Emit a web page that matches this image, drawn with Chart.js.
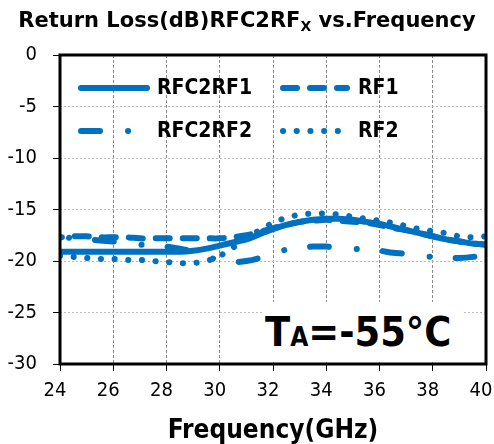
<!DOCTYPE html>
<html>
<head>
<meta charset="utf-8">
<script src="https://cdn.jsdelivr.net/npm/chart.js@4.4.1/dist/chart.umd.min.js"></script>
<style>
  body { margin: 0; background: #fff; }
  #wrap { position: relative; width: 494px; height: 444px; font-family: 'DejaVu Sans Condensed', 'DejaVu Sans', sans-serif; color: #000; }
  #title { position: absolute; left: 0; top: 10px; width: 494px; text-align: center; font-family: 'DejaVu Sans', sans-serif; font-weight: bold; font-size: 21px; line-height: 21px; white-space: nowrap; }
  #title sub { font-size: 14px; vertical-align: -4px; line-height: 0; }
  #temp { position: absolute; left: 262px; top: 302px; width: 198px; height: 60px; padding-left: 3px; background: #fff; font-weight: bold; }
  #temp div { margin-top: 10px; font-size: 41px; line-height: 41px; white-space: nowrap; }
  #temp span { font-size: 26px; }
  canvas { position: absolute; left: 0; top: 0; }
</style>
</head>
<body>
<div id="wrap">
  <canvas id="chartOfReturnLoss" width="494" height="444"></canvas>
  <div id="title">Return Loss(dB)RFC2RF<sub>X</sub> vs.Frequency</div>
  <div id="temp"><div>T<span>A</span>=-55°C</div></div>
</div>
<script>
'use strict';

// frequency points (GHz)
let freqs = [24, 24.5, 25, 25.5, 26, 26.5, 27, 27.5, 28, 28.5, 29, 29.5, 30, 30.5, 31, 31.5, 32,
  32.5, 33, 33.5, 34, 34.5, 35, 35.5, 36, 36.5, 37, 37.5, 38, 38.5, 39, 39.5, 40];

// return loss (dB)
let rfc2rf1 = [-19.1, -19.1, -19.1, -19.1, -19.1, -19.1, -19.1, -19.1, -19.1, -19.1, -19.0, -18.8, -18.5,
  -18.2, -17.9, -17.4, -16.9, -16.5, -16.2, -16.0, -15.9, -15.9, -16.0, -16.2, -16.4, -16.7, -17.0,
  -17.3, -17.6, -17.9, -18.1, -18.3, -18.4];
let rf1 = [-17.7, -17.6, -17.6, -17.7, -17.7, -17.7, -17.8, -17.8, -17.8, -17.8, -17.8, -17.8, -17.8,
  -17.7, -17.5, -17.2, -16.8, -16.5, -16.2, -16.1, -16.0, -16.1, -16.2, -16.3, -16.5, -16.8, -17.0,
  -17.3, -17.6, -17.9, -18.1, -18.3, -18.4];
let rfc2rf2 = [-17.6, -17.8, -17.9, -18.0, -18.1, -18.2, -18.4, -18.5, -18.6, -18.8, -19.1, -19.6, -19.9,
  -20.1, -20.0, -19.7, -19.2, -18.9, -18.7, -18.6, -18.6, -18.7, -18.8, -18.9, -19.0, -19.2, -19.3,
  -19.5, -19.6, -19.7, -19.7, -19.6, -19.4];
let rf2 = [-19.5, -19.6, -19.7, -19.8, -19.8, -19.9, -19.9, -20.0, -20.1, -20.2, -20.2, -20.0, -19.5,
  -18.7, -17.8, -17.0, -16.3, -15.8, -15.5, -15.4, -15.4, -15.5, -15.7, -15.9, -16.1, -16.3, -16.6,
  -16.9, -17.1, -17.3, -17.6, -17.7, -17.6];

let seriesNames = ['RFC2RF1', 'RF1', 'RFC2RF2', 'RF2'];
let seriesValues = [rfc2rf1, rf1, rfc2rf2, rf2];

let xTicks = [24, 26, 28, 30, 32, 34, 36, 38, 40];
let yTicks = [0, -5, -10, -15, -20, -25, -30];

let lineBlue = '#0070C0';
let fontFamily = "'DejaVu Sans Condensed', 'DejaVu Sans', sans-serif";

// line look per series: solid, dashed, dash-dot, dotted
let dashes = [[], [14, 13], [19, 28, 0.1, 26], [0.1, 13.6]];
let dashOffsets = [0, 12, 38, 0];
let widths = [6, 6, 6, 6];

function toPoints(values) {
  let points = [];
  for (let i = 0; i < freqs.length; i++) {
    points.push({ x: freqs[i], y: values[i] });
  }
  return points;
}

let datasets = [];
for (let i = 0; i < seriesNames.length; i++) {
  datasets.push({
    label: seriesNames[i],
    data: toPoints(seriesValues[i]),
    borderColor: lineBlue,
    borderWidth: widths[i],
    borderDash: dashes[i],
    borderDashOffset: dashOffsets[i],
    borderCapStyle: 'round',
    borderJoinStyle: 'round',
    pointRadius: 0,
    tension: 0.3,
    fill: false
  });
}

// legend drawn inside the plot, two columns
let insideLegend = {
  id: 'insideLegend',
  afterDatasetsDraw(chart) {
    let c = chart.ctx;
    let cols = [{ x0: 81, tx: 157 }, { x0: 283, tx: 358 }];
    let rows = [88, 131];
    let sampleEnds = [147, 347, 129, 338];
    chart.data.datasets.forEach(function (ds, i) {
      let col = cols[i % 2];
      let y = rows[Math.floor(i / 2)];
      c.save();
      c.strokeStyle = ds.borderColor;
      c.lineWidth = ds.borderWidth;
      c.lineCap = 'round';
      c.setLineDash(ds.borderDash);
      c.beginPath();
      c.moveTo(col.x0, y);
      c.lineTo(sampleEnds[i], y);
      c.stroke();
      c.setLineDash([]);
      c.fillStyle = '#000';
      c.font = 'bold 21px ' + fontFamily;
      c.textBaseline = 'middle';
      c.fillText(ds.label, col.tx, y + 1);
      c.restore();
    });
  }
};

// thick black frame round the plot
let plotFrame = {
  id: 'plotFrame',
  afterDraw(chart) {
    let a = chart.chartArea;
    let c = chart.ctx;
    c.save();
    c.strokeStyle = '#000';
    c.lineWidth = 3;
    c.strokeRect(a.left, a.top, a.right - a.left, a.bottom - a.top);
    c.restore();
  }
};

Chart.defaults.font.family = fontFamily;
Chart.defaults.color = '#000';

let ctx = document.getElementById('chartOfReturnLoss');

new Chart(ctx, {
  type: 'line',
  data: { datasets: datasets },
  options: {
    responsive: false,
    animation: false,
    devicePixelRatio: 1,
    layout: { padding: { left: 0, right: 8, top: 55, bottom: 0 } },
    plugins: {
      legend: { display: false },
      tooltip: { enabled: false }
    },
    scales: {
      x: {
        type: 'linear',
        min: 24,
        max: 40,
        afterBuildTicks(scale) {
          scale.ticks = xTicks.map(v => ({ value: v }));
        },
        afterFit(scale) {
          scale.height = 80;
          scale.paddingLeft = 0;
          scale.paddingRight = 0;
        },
        ticks: { font: { size: 20 }, padding: 8, labelOffset: -5, maxRotation: 0, autoSkip: false },
        grid: { color: '#8a8a8a', lineWidth: 1, tickColor: '#000', tickLength: 7 },
        border: { display: false, dash: [3, 2] },
        title: {
          display: true,
          text: 'Frequency(GHz)',
          font: { size: 26, weight: 'bold', lineHeight: 1 },
          padding: { top: 0, bottom: 0 }
        }
      },
      y: {
        type: 'linear',
        min: -30,
        max: 0,
        afterBuildTicks(scale) {
          scale.ticks = yTicks.map(v => ({ value: v }));
        },
        afterFit(scale) {
          scale.width = 60;
          scale.paddingTop = 0;
          scale.paddingBottom = 0;
        },
        ticks: { font: { size: 20 }, padding: 16, autoSkip: false },
        grid: { color: '#bdbdbd', lineWidth: 1, tickColor: '#000', tickLength: 7 },
        border: { display: false, dash: [2, 2] }
      }
    }
  },
  plugins: [insideLegend, plotFrame]
});
</script>
</body>
</html>
